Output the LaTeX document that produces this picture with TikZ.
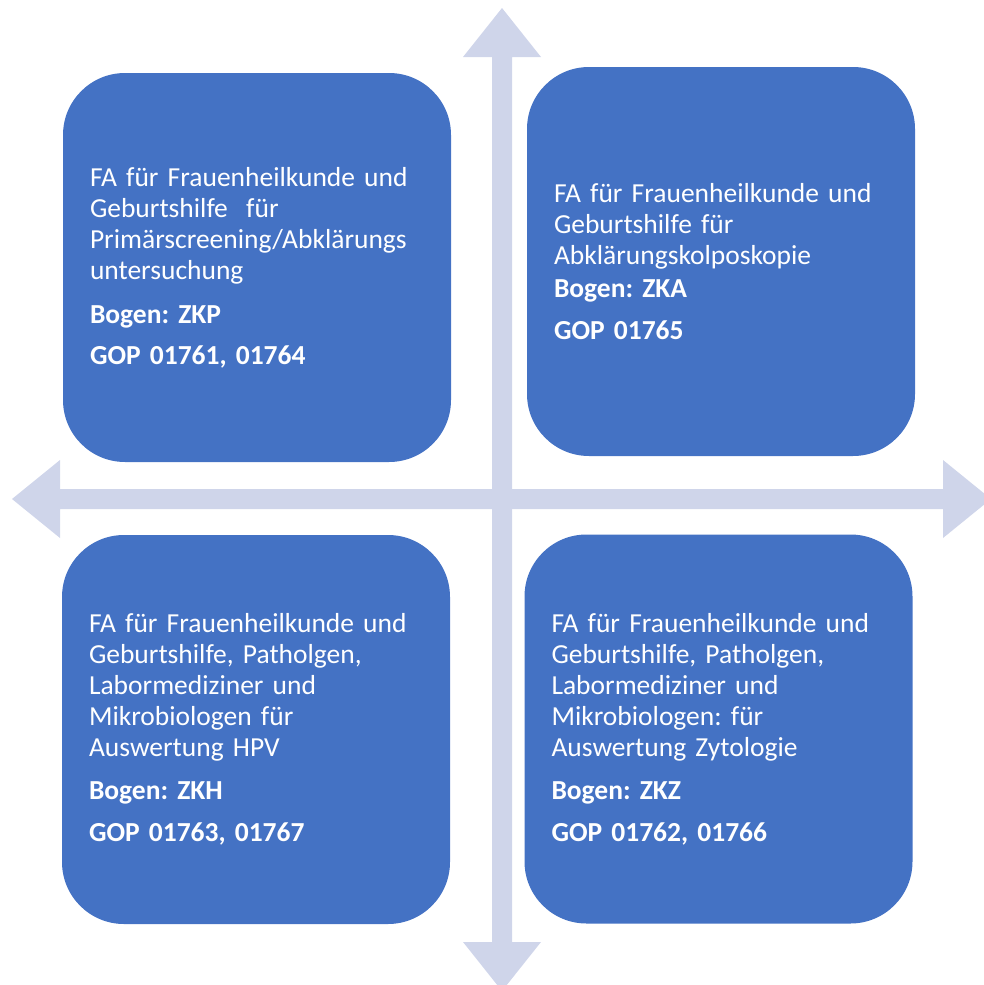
\documentclass[tikz,border=0pt]{standalone}
\usepackage{fontspec}
\setmainfont{Carlito}
\frenchspacing
\definecolor{boxblue}{HTML}{4472C4}
\definecolor{arrowlav}{HTML}{CFD5EA}
\begin{document}
\begin{tikzpicture}[x=1pt,y=-1pt,
  quad/.style={draw=none, fill=boxblue, rounded corners=62pt,
    minimum width=388pt, minimum height=389pt, text width=334pt,
    inner xsep=27pt, inner ysep=0pt, align=left, text=white,
    font=\frenchspacing\fontsize{27.5}{31}\selectfont},
  arrowshape/.style={fill=arrowlav, draw=none}]
\useasboundingbox (0,0) rectangle (984,985);
% vertical double arrow
\coordinate (vtop) at (502,8);
\coordinate (vbot) at (502,991);
\fill[arrowshape] (492,942) -- (492,57) -- (463,57) -- (vtop) -- (541,57) -- (512,57)
  -- (512,942) -- (541,942) -- (vbot) -- (463,942) -- cycle;
% horizontal double arrow
\coordinate (hleft) at (12,499);
\coordinate (hright) at (991,499);
\fill[arrowshape] (60,489) -- (943,489) -- (943,460) -- (hright) -- (943,538) -- (943,509)
  -- (60,509) -- (60,538) -- (hleft) -- (60,460) -- cycle;
% boxes
\node[quad] (tl) at (257,267.5) {FA für Frauenheilkunde und\\ Geburtshilfe~ für\\ Primärscreening/Abklärungs\\ untersuchung\\[13pt] \textbf{Bogen: ZKP}\\[10pt] \textbf{GOP 01761, 01764}};
\node[quad] (tr) at (721,261.5) {FA für Frauenheilkunde und\\ Geburtshilfe für\\ Abklärungskolposkopie\\[2pt] \textbf{Bogen: ZKA}\\[11pt] \textbf{GOP 01765}};
\node[quad] (bl) at (256,729.5) {FA für Frauenheilkunde und\\ Geburtshilfe, Patholgen,\\ Labormediziner und\\ Mikrobiologen für\\ Auswertung HPV\\[12pt] \textbf{Bogen: ZKH}\\[11pt] \textbf{GOP 01763, 01767}};
\node[quad] (br) at (718.5,729) {FA für Frauenheilkunde und\\ Geburtshilfe, Patholgen,\\ Labormediziner und\\ Mikrobiologen: für\\ Auswertung Zytologie\\[12pt] \textbf{Bogen: ZKZ}\\[11pt] \textbf{GOP 01762, 01766}};
\end{tikzpicture}
\end{document}
